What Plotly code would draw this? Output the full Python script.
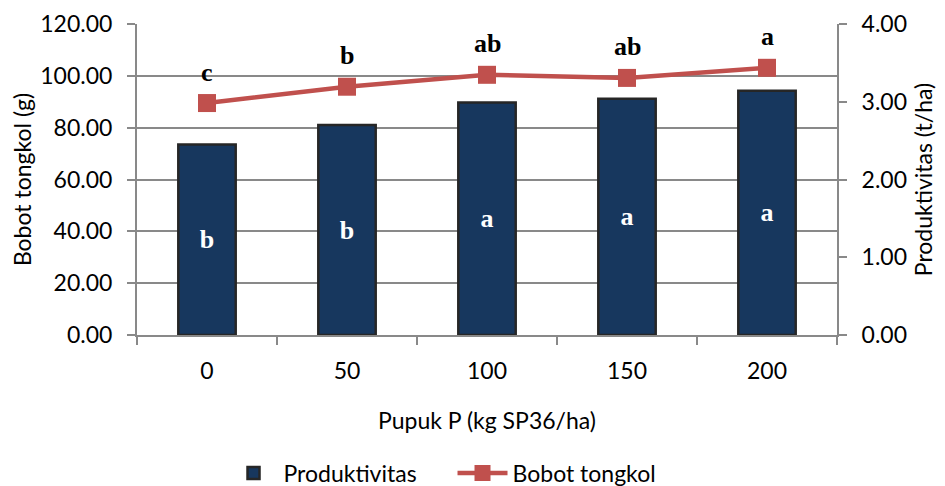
import plotly.graph_objects as go

categories = ["0", "50", "100", "150", "200"]
produktivitas = [2.45, 2.70, 2.99, 3.04, 3.14]      # t/ha (bars, right axis)
bobot_tongkol = [89.5, 95.8, 100.4, 99.2, 103.1]    # g (line, left axis)
bar_letters = ["b", "b", "a", "a", "a"]
line_letters = ["c", "b", "ab", "ab", "a"]

FONT = "Lato"
GRID = "#898989"
FS = 23

fig = go.Figure()
fig.add_trace(go.Bar(
    x=categories, y=produktivitas, name="Produktivitas", yaxis="y2",
    marker=dict(color="#17375E", line=dict(color="#262626", width=2.5)),
    width=0.41,
    text=bar_letters, textposition="inside", insidetextanchor="middle",
    textangle=0, constraintext="none",
    textfont=dict(family="Liberation Serif", size=26, color="white", weight="bold"),
))
fig.add_trace(go.Scatter(
    x=categories, y=bobot_tongkol, name="Bobot tongkol", yaxis="y",
    mode="lines+markers",
    line=dict(color="#C0504D", width=4.5),
    marker=dict(symbol="square", size=18, color="#C0504D"),
))
# category axes take annotation positions as category index numbers
for i, (v, t) in enumerate(zip(bobot_tongkol, line_letters)):
    fig.add_annotation(x=i, y=v, xref="x", yref="y", text=t, showarrow=False, yshift=31,
                       font=dict(family="Liberation Serif", size=26, color="black", weight="bold"))

# page body adds an 8px margin, so the figure is 8px smaller than the window
fig.update_layout(
    width=937, height=478,
    margin=dict(l=129, r=108, t=16, b=151),
    paper_bgcolor="white", plot_bgcolor="white",
    font=dict(family=FONT, size=FS, color="black"),
    showlegend=True,
    legend=dict(orientation="h", x=0.230, xanchor="left", xref="container",
                y=0.027, yanchor="middle", yref="container",
                itemwidth=50, entrywidth=164, entrywidthmode="pixels",
                font=dict(family=FONT, size=FS), traceorder="normal"),
    xaxis=dict(
        type="category", range=[-0.5, 4.5], tickson="boundaries", ticks="outside", ticklen=8,
        tickwidth=2, tickcolor=GRID, showline=True, linecolor=GRID, linewidth=2,
        showgrid=False, tickangle=0, automargin=False, ticklabelstandoff=14,
        title=dict(text="Pupuk P (kg SP36/ha)", standoff=30, font=dict(size=FS)),
        tickfont=dict(size=FS),
    ),
    yaxis=dict(
        range=[0, 120], dtick=20, tickformat=".2f", ticks="outside", ticklen=8,
        tickwidth=2, tickcolor=GRID, showline=True, linecolor=GRID, linewidth=2,
        showgrid=True, gridcolor=GRID, gridwidth=2, zeroline=False, automargin=False,
        ticklabelstandoff=10, ticklabeloverflow="allow",
        title=dict(text="Bobot tongkol (g)", standoff=10, font=dict(size=FS)),
        tickfont=dict(size=FS),
    ),
    yaxis2=dict(
        range=[0, 4], dtick=1, tickformat=".2f", ticks="outside", ticklen=8,
        tickwidth=2, tickcolor=GRID, showline=True, linecolor=GRID, linewidth=2,
        showgrid=False, zeroline=False, overlaying="y", side="right", automargin=False,
        ticklabelstandoff=10, ticklabeloverflow="allow",
        title=dict(text="Produktivitas (t/ha)", standoff=10, font=dict(size=FS)),
        tickfont=dict(size=FS),
    ),
)

fig.write_html("out.html")
